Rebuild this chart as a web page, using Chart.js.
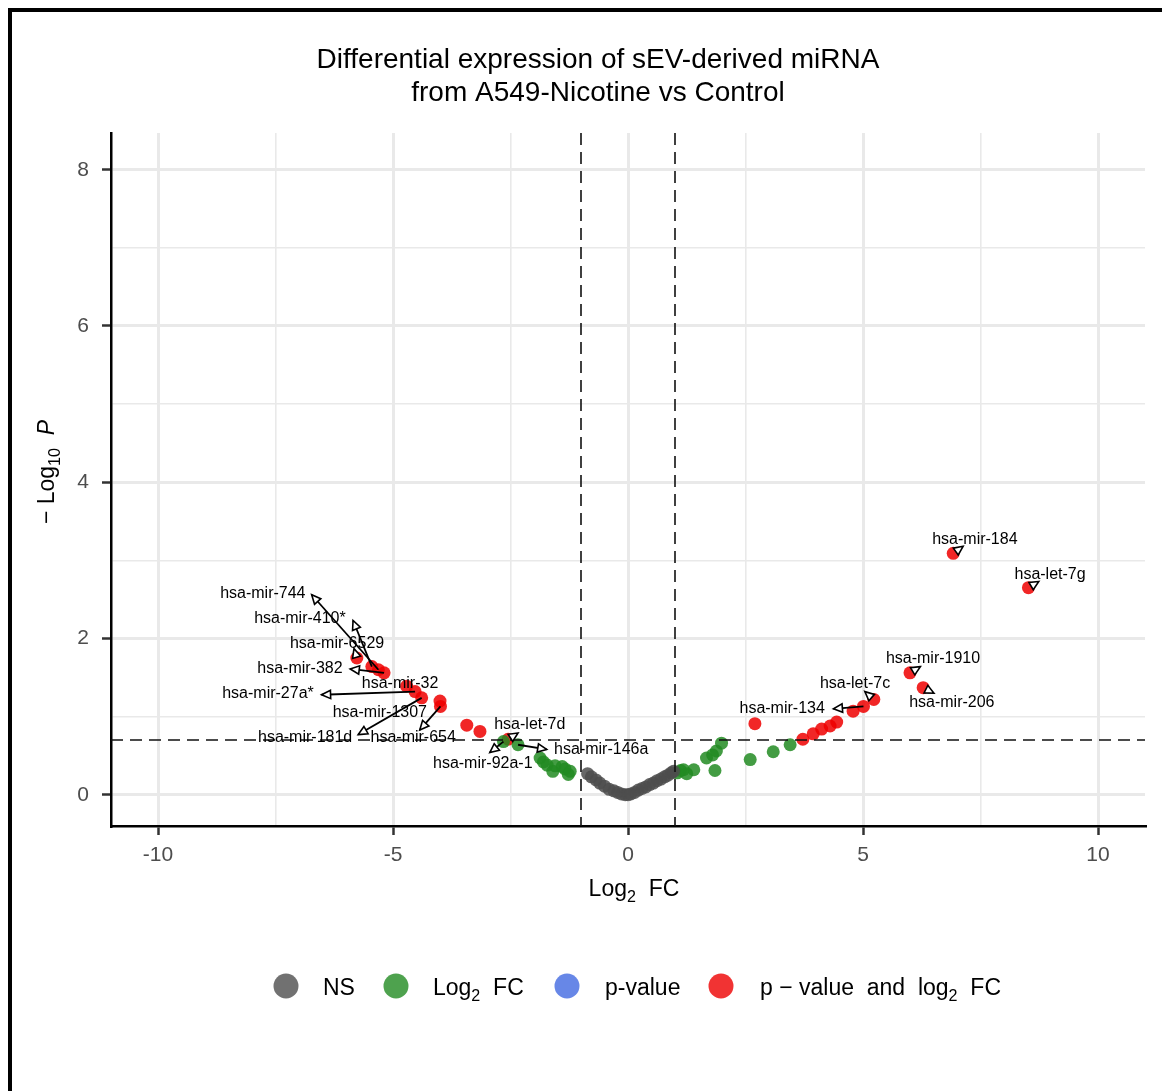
<!DOCTYPE html>
<html>
<head>
<meta charset="utf-8">
<title>Differential expression of sEV-derived miRNA</title>
<script src="https://cdn.jsdelivr.net/npm/chart.js@4.4.0/dist/chart.umd.min.js"></script>
<style>
  html, body { margin: 0; padding: 0; background: #fff; }
  #frame { position: absolute; left: 8px; top: 8px; width: 1154px; height: 1083px;
           border-left: 4px solid #000; border-top: 4px solid #000; box-sizing: border-box; }
  #wrap { position: absolute; left: 0; top: 0; width: 1164px; height: 1091px; }
</style>
</head>
<body>
<div id="frame"></div>
<div id="wrap"><canvas id="volcano" width="1164" height="1091"></canvas></div>
<script>
// ---- Data: log2 fold change and -log10 p for each miRNA group ----
const nsLog2FC = [-0.86, -0.78, -0.68, -0.60, -0.50, -0.40, -0.30, -0.22, -0.14, -0.06, 0.00, 0.06,
                  0.14, 0.22, 0.30, 0.38, 0.46, 0.54, 0.62, 0.70, 0.78, 0.85, 0.92, 0.97];
const nsLogP   = [0.27, 0.23, 0.19, 0.15, 0.11, 0.07, 0.05, 0.03, 0.01, 0.00, 0.00, 0.01,
                  0.03, 0.06, 0.08, 0.10, 0.13, 0.15, 0.18, 0.20, 0.23, 0.25, 0.28, 0.30];

const fcLog2FC = [-2.65, -2.34, -1.87, -1.80, -1.72, -1.60, -1.55, -1.40, -1.34, -1.27, -1.23,
                  1.05, 1.12, 1.18, 1.25, 1.40, 1.67, 1.80, 1.85, 1.88, 1.99, 2.60, 3.09, 3.45];
const fcLogP   = [0.68, 0.64, 0.47, 0.42, 0.38, 0.30, 0.37, 0.36, 0.33, 0.26, 0.30,
                  0.28, 0.31, 0.32, 0.27, 0.32, 0.47, 0.51, 0.31, 0.56, 0.66, 0.45, 0.55, 0.64];

const pLog2FC  = [];
const pLogP    = [];

const sigLog2FC = [-5.77, -5.45, -5.31, -5.19, -4.71, -4.53, -4.39, -4.00, -3.99, -3.43, -3.15, -2.55,
                   2.70, 3.72, 3.94, 4.12, 4.30, 4.44, 4.79, 5.01, 5.23, 6.00, 6.28, 6.92, 8.52];
const sigLogP   = [1.75, 1.64, 1.60, 1.56, 1.39, 1.32, 1.24, 1.20, 1.13, 0.89, 0.81, 0.71,
                   0.91, 0.71, 0.78, 0.84, 0.88, 0.93, 1.07, 1.13, 1.22, 1.56, 1.37, 3.09, 2.65];

// Labelled miRNAs: name, group and index into that group's arrays
const labelNames  = ['hsa-mir-744', 'hsa-mir-410*', 'hsa-mir-6529', 'hsa-mir-382', 'hsa-mir-32',
                     'hsa-mir-27a*', 'hsa-mir-1307', 'hsa-mir-181d', 'hsa-mir-654', 'hsa-let-7d',
                     'hsa-mir-92a-1', 'hsa-mir-146a', 'hsa-mir-134', 'hsa-let-7c', 'hsa-mir-1910',
                     'hsa-mir-206', 'hsa-mir-184', 'hsa-let-7g'];
const labelGroup  = ['sig', 'sig', 'sig', 'sig', 'sig', 'sig', 'sig', 'sig', 'sig', 'sig',
                     'fc', 'fc', 'sig', 'sig', 'sig', 'sig', 'sig', 'sig'];
const labelIndex  = [2, 1, 0, 3, 4, 5, 7, 6, 8, 11, 0, 1, 19, 20, 21, 22, 23, 24];

// Thresholds
const fcCutoff = 1;
const pCutoff = 0.7;

// Tick values
const xTickValues = [-10, -7.5, -5, -2.5, 0, 2.5, 5, 7.5, 10];
const yTickValues = [0, 1, 2, 3, 4, 5, 6, 7, 8];

const legendLabels = [
  [{t: 'NS'}],
  [{t: 'Log'}, {t: '2', sub: true}, {t: '  FC'}],
  [{t: 'p-value'}],
  [{t: 'p \u2212 value  and  log'}, {t: '2', sub: true}, {t: '  FC'}]
];

// ---- Label placement (text centre and arrow tip, in axis units) ----
const labelLayout = [
  {tx: -7.77, ty: 2.57, ax: -6.73, ay: 2.56},
  {tx: -6.98, ty: 2.25, ax: -5.85, ay: 2.23},
  {tx: -6.19, ty: 1.93, ax: -5.83, ay: 1.87},
  {tx: -6.98, ty: 1.61, ax: -5.91, ay: 1.61},
  {tx: -4.85, ty: 1.42, ax: null, ay: null},
  {tx: -7.66, ty: 1.29, ax: -6.52, ay: 1.28},
  {tx: -5.28, ty: 1.05, ax: null, ay: null},
  {tx: -6.87, ty: 0.73, ax: -5.74, ay: 0.77},
  {tx: -4.57, ty: 0.73, ax: -4.43, ay: 0.83},
  {tx: -2.09, ty: 0.90, ax: -2.34, ay: 0.79},
  {tx: -3.09, ty: 0.40, ax: -2.94, ay: 0.54},
  {tx: -0.57, ty: 0.58, ax: -1.73, ay: 0.58},
  {tx:  3.28, ty: 1.10, ax:  4.37, ay: 1.10},
  {tx:  4.83, ty: 1.42, ax:  5.04, ay: 1.32},
  {tx:  6.49, ty: 1.74, ax:  6.22, ay: 1.64},
  {tx:  6.89, ty: 1.18, ax:  6.51, ay: 1.30},
  {tx:  7.38, ty: 3.26, ax:  7.13, ay: 3.18},
  {tx:  8.98, ty: 2.82, ax:  8.74, ay: 2.73}
];

const FONT = '"Liberation Sans", Arial, Helvetica, sans-serif';
const toPoints = (xs, ys) => xs.map((x, i) => ({x: x, y: ys[i]}));
const groups = {
  ns:  {x: nsLog2FC,  y: nsLogP},
  fc:  {x: fcLog2FC,  y: fcLogP},
  p:   {x: pLog2FC,   y: pLogP},
  sig: {x: sigLog2FC, y: sigLogP}
};

const pointColors  = ['rgba(77,77,77,0.85)', 'rgba(34,139,34,0.85)', 'rgba(65,105,225,0.85)', 'rgba(238,0,0,0.85)'];
const legendColors = ['rgba(77,77,77,0.8)', 'rgba(34,139,34,0.8)', 'rgba(65,105,225,0.8)', 'rgba(238,0,0,0.8)'];

// Draws a run of text pieces, with subscripts / italics, starting at x
function segWidth(ctx, segs, size) {
  let w = 0;
  segs.forEach(s => {
    ctx.font = (s.it ? 'italic ' : '') + (s.sub ? size * 0.7 : size) + 'px ' + FONT;
    w += ctx.measureText(s.t).width;
  });
  return w;
}
function drawSegs(ctx, segs, x, y, size, align) {
  const w = segWidth(ctx, segs, size);
  let cx = align === 'center' ? x - w / 2 : (align === 'right' ? x - w : x);
  ctx.textAlign = 'left';
  ctx.textBaseline = 'alphabetic';
  segs.forEach(s => {
    ctx.font = (s.it ? 'italic ' : '') + (s.sub ? size * 0.7 : size) + 'px ' + FONT;
    ctx.fillText(s.t, cx, s.sub ? y + size * 0.28 : y);
    cx += ctx.measureText(s.t).width;
  });
}

function arrowHead(ctx, fx, fy, tx, ty) {
  const ang = Math.atan2(ty - fy, tx - fx);
  const len = 9, half = 4.2;
  const bx = tx - len * Math.cos(ang), by = ty - len * Math.sin(ang);
  ctx.beginPath();
  ctx.moveTo(tx, ty);
  ctx.lineTo(bx + half * Math.sin(ang), by - half * Math.cos(ang));
  ctx.lineTo(bx - half * Math.sin(ang), by + half * Math.cos(ang));
  ctx.closePath();
  ctx.fillStyle = '#fff';
  ctx.fill();
  ctx.lineWidth = 1.6;
  ctx.strokeStyle = '#000';
  ctx.stroke();
}

const overlay = {
  id: 'overlay',
  afterDatasetsDraw(chart) {
    const ctx = chart.ctx, xs = chart.scales.x, ys = chart.scales.y, a = chart.chartArea;
    ctx.save();
    ctx.beginPath();
    ctx.rect(a.left, a.top, a.right - a.left, a.bottom - a.top);
    ctx.clip();
    // cut-off lines
    ctx.setLineDash([12, 7]);
    ctx.lineWidth = 1.6;
    ctx.strokeStyle = '#111';
    [-fcCutoff, fcCutoff].forEach(v => {
      const px = xs.getPixelForValue(v);
      ctx.beginPath(); ctx.moveTo(px, a.top); ctx.lineTo(px, a.bottom); ctx.stroke();
    });
    const py = ys.getPixelForValue(pCutoff);
    ctx.beginPath(); ctx.moveTo(a.left, py); ctx.lineTo(a.right, py); ctx.stroke();
    ctx.setLineDash([]);
    ctx.restore();

    // labels with connectors
    ctx.save();
    labelNames.forEach((name, i) => {
      const g = groups[labelGroup[i]];
      const px = xs.getPixelForValue(g.x[labelIndex[i]]);
      const pyy = ys.getPixelForValue(g.y[labelIndex[i]]);
      const L = labelLayout[i];
      if (L.ax !== null) {
        const tx = xs.getPixelForValue(L.ax), ty = ys.getPixelForValue(L.ay);
        const d = Math.hypot(tx - px, ty - pyy);
        if (d > 14) {
          ctx.beginPath();
          ctx.moveTo(px, pyy);
          ctx.lineTo(tx, ty);
          ctx.lineWidth = 1.8;
          ctx.strokeStyle = '#000';
          ctx.stroke();
        }
        arrowHead(ctx, px, pyy, tx, ty);
      }
      ctx.fillStyle = '#000';
      ctx.font = '16px ' + FONT;
      ctx.textAlign = 'center';
      ctx.textBaseline = 'middle';
      ctx.fillText(name, xs.getPixelForValue(L.tx), ys.getPixelForValue(L.ty));
    });
    ctx.restore();
  },
  afterDraw(chart) {
    const ctx = chart.ctx, a = chart.chartArea;
    ctx.save();
    ctx.fillStyle = '#000';
    // title
    ctx.font = '28px ' + FONT;
    ctx.textAlign = 'center';
    ctx.textBaseline = 'alphabetic';
    ctx.fillText('Differential expression of sEV-derived miRNA', 598, 68);
    ctx.fillText('from A549-Nicotine vs Control', 598, 101);
    // x title
    drawSegs(ctx, [{t: 'Log'}, {t: '2', sub: true}, {t: '  FC'}], (a.left + a.right) / 2 + 6, 896, 23, 'center');
    // y title
    ctx.save();
    ctx.translate(54, 472);
    ctx.rotate(-Math.PI / 2);
    drawSegs(ctx, [{t: '\u2212 Log'}, {t: '10', sub: true}, {t: '  '}, {t: 'P', it: true}], 0, 0, 23, 'center');
    ctx.restore();
    // legend
    const cx = [286, 396, 567, 721];
    const tx = [323, 433, 605, 760];
    legendLabels.forEach((segs, i) => {
      ctx.beginPath();
      ctx.arc(cx[i], 986, 12.5, 0, Math.PI * 2);
      ctx.fillStyle = legendColors[i];
      ctx.fill();
      ctx.fillStyle = '#000';
      drawSegs(ctx, segs, tx[i], 995, 23, 'left');
    });
    ctx.restore();
  }
};

const isMajorX = v => Math.abs(v % 5) < 1e-9;
const isMajorY = v => Math.abs(v % 2) < 1e-9;

new Chart(document.getElementById('volcano'), {
  type: 'scatter',
  data: {
    datasets: [
      {label: 'NS', data: toPoints(nsLog2FC, nsLogP), backgroundColor: pointColors[0]},
      {label: 'Log2 FC', data: toPoints(fcLog2FC, fcLogP), backgroundColor: pointColors[1]},
      {label: 'p-value', data: toPoints(pLog2FC, pLogP), backgroundColor: pointColors[2]},
      {label: 'p - value and log2 FC', data: toPoints(sigLog2FC, sigLogP), backgroundColor: pointColors[3]}
    ]
  },
  options: {
    responsive: false,
    animation: false,
    events: [],
    layout: {padding: {top: 133, right: 19, left: 0, bottom: 0}},
    elements: {point: {radius: 6.5, borderWidth: 0, hoverRadius: 6.5}},
    plugins: {legend: {display: false}, tooltip: {enabled: false}, title: {display: false}},
    scales: {
      x: {
        type: 'linear', min: -11, max: 11,
        afterBuildTicks: s => { s.ticks = xTickValues.map(v => ({value: v})); },
        afterFit: s => { s.height = 265; },
        ticks: {
          autoSkip: false, maxRotation: 0, padding: 8, color: '#4d4d4d',
          font: {family: FONT, size: 21},
          callback: v => isMajorX(v) ? String(v) : ''
        },
        grid: {
          color: '#e9e9e9',
          lineWidth: c => (c.tick && isMajorX(c.tick.value)) ? 3 : 1.6,
          tickColor: c => (c.tick && isMajorX(c.tick.value)) ? '#333' : 'rgba(0,0,0,0)',
          tickLength: 9, tickWidth: 2.5
        },
        border: {display: true, color: '#000', width: 2.5}
      },
      y: {
        type: 'linear', min: -0.4, max: 8.47,
        afterBuildTicks: s => { s.ticks = yTickValues.map(v => ({value: v})); },
        afterFit: s => { s.width = 111; },
        ticks: {
          autoSkip: false, padding: 13, color: '#4d4d4d',
          font: {family: FONT, size: 21},
          callback: v => isMajorY(v) ? String(v) : ''
        },
        grid: {
          color: '#e9e9e9',
          lineWidth: c => (c.tick && isMajorY(c.tick.value)) ? 3 : 1.6,
          tickColor: c => (c.tick && isMajorY(c.tick.value)) ? '#333' : 'rgba(0,0,0,0)',
          tickLength: 9, tickWidth: 2.5
        },
        border: {display: true, color: '#000', width: 2.5}
      }
    }
  },
  plugins: [overlay]
});
</script>
</body>
</html>
